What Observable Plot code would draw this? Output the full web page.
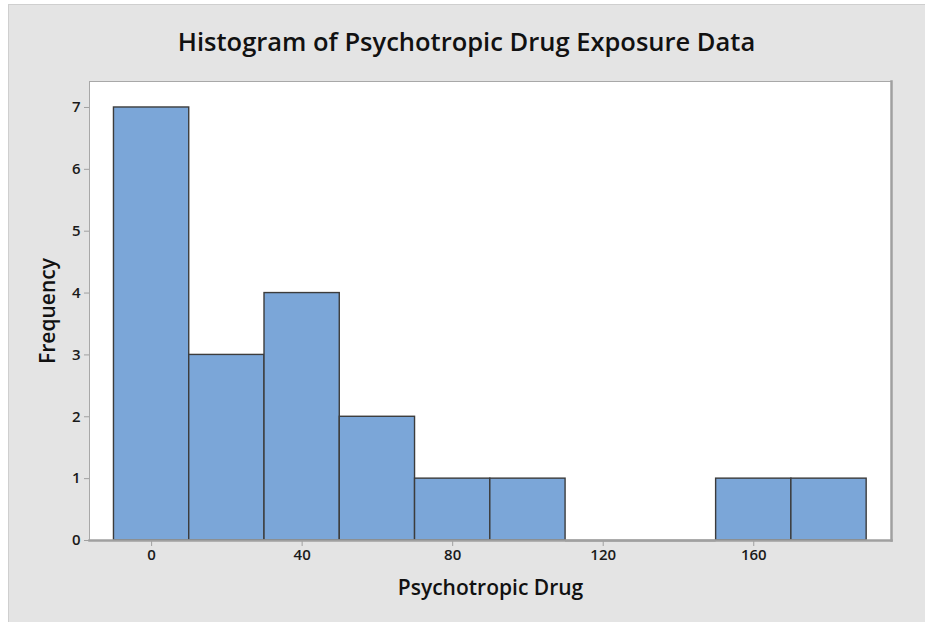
<!DOCTYPE html>
<html>
<head>
<meta charset="utf-8">
<script src="https://cdn.jsdelivr.net/npm/d3@7"></script>
<script src="https://cdn.jsdelivr.net/npm/@observablehq/plot@0.6"></script>
<style>
  html, body { margin: 0; padding: 0; background: #ffffff; }
  #wrap { position: relative; width: 925px; height: 622px; overflow: hidden; background: #ffffff; }
  #panel { position: absolute; left: 8px; top: 4px; width: 917px; height: 618px; background: #e4e4e4;
           border-left: 1px solid #cfcfcf; border-top: 1px solid #cfcfcf; box-sizing: border-box; }
  #title { position: absolute; left: 8px; width: 917px; top: 25px; margin: 0; text-align: center;
           font-family: "Open Sans", sans-serif; font-weight: 600; font-size: 25.5px; color: #111; line-height: 32px; }
  #chart { position: absolute; left: 0; top: 0; }
</style>
</head>
<body>
<div id="wrap">
  <div id="panel"></div>
  <h1 id="title">Histogram of Psychotropic Drug Exposure Data</h1>
  <div id="chart"></div>
</div>
<script>
// Data
const binLower = [-10, 10, 30, 50, 70, 90, 110, 130, 150, 170];
const binUpper = [10, 30, 50, 70, 90, 110, 130, 150, 170, 190];
const frequency = [7, 3, 4, 2, 1, 1, 0, 0, 1, 1];
const xTicks = [0, 40, 80, 120, 160];
const yTicks = [0, 1, 2, 3, 4, 5, 6, 7];
const xLabel = "Psychotropic Drug";
const yLabel = "Frequency";

const bins = binLower.map((lo, i) => ({lo, hi: binUpper[i], n: frequency[i]}));
const bars = bins.filter(d => d.n > 0);

const font = "'Open Sans', sans-serif";

const chart = Plot.plot({
  width: 925,
  height: 622,
  marginLeft: 89,
  marginTop: 81,
  marginRight: 34,
  marginBottom: 82,
  style: {background: "transparent", fontFamily: font, fontSize: "15px", fontWeight: 600, color: "#1a1a1a", overflow: "visible"},
  x: {domain: [-16.5, 196.6], ticks: xTicks, tickSize: 6, tickPadding: 4, label: null},
  y: {domain: [0, 7.42], ticks: yTicks, tickSize: 5, tickPadding: 4, label: null},
  marks: [
    Plot.frame({fill: "white", stroke: "#a8a8a8", strokeWidth: 1}),
    Plot.rectY(bars, {x1: "lo", x2: "hi", y1: 0, y2: "n", fill: "#7ba6d8", stroke: "#3c3c3c", strokeWidth: 1.4}),
    Plot.ruleY(bins.filter(d => d.n === 0), {x1: "lo", x2: "hi", y: 0, stroke: "#3c3c3c", strokeWidth: 1.4}),
    Plot.frame({anchor: "bottom", stroke: "#a0a0a0", strokeWidth: 2.5}),
    Plot.frame({anchor: "right", stroke: "#a0a0a0", strokeWidth: 2.5}),
    Plot.axisX({ticks: xTicks, tickSize: 6, tickPadding: 3, stroke: "#a0a0a0", fill: "#1a1a1a", fontSize: 15, label: null}),
    Plot.axisY({ticks: yTicks, tickSize: 5, tickPadding: 4, stroke: "#a0a0a0", fill: "#1a1a1a", fontSize: 15, label: null}),
    Plot.text([xLabel], {frameAnchor: "bottom", dy: 48, fontSize: 21, fontWeight: 600, fill: "#111", textAnchor: "middle", lineAnchor: "middle"}),
    Plot.text([yLabel], {frameAnchor: "left", dx: -41, rotate: -90, fontSize: 21, fontWeight: 600, fill: "#111", textAnchor: "middle", lineAnchor: "middle"})
  ]
});
document.getElementById("chart").appendChild(chart);
</script>
</body>
</html>
